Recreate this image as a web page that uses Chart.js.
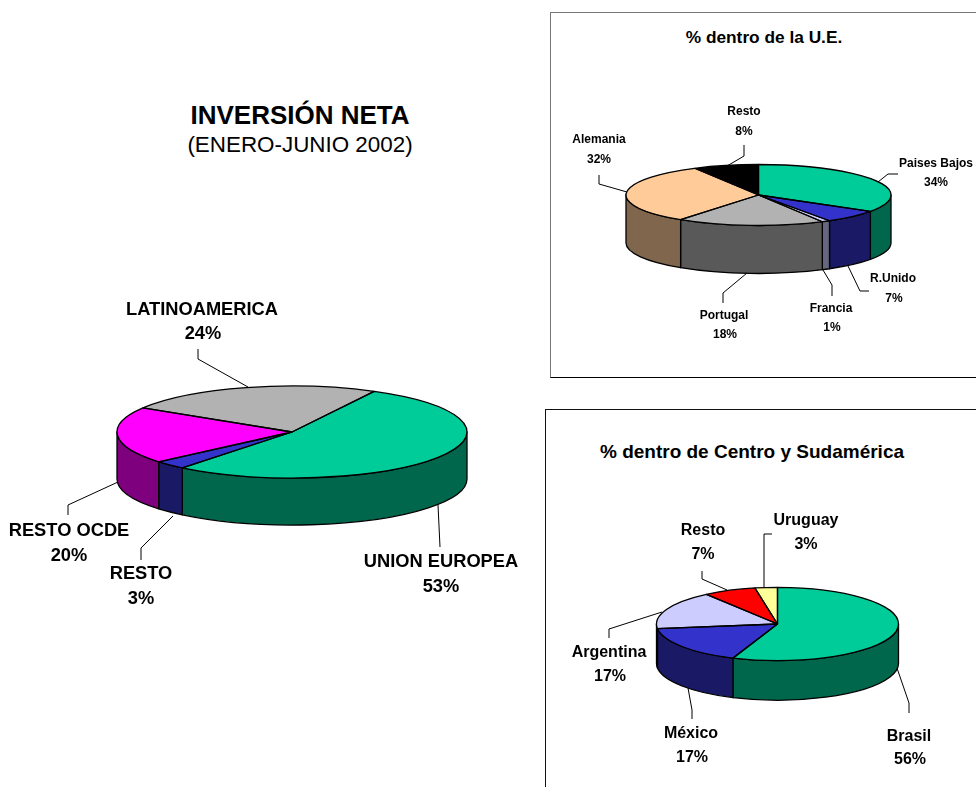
<!DOCTYPE html>
<html>
<head>
<meta charset="utf-8">
<title>Inversión neta</title>
<script src="https://cdn.jsdelivr.net/npm/chart.js@4/dist/chart.umd.min.js"></script>
<style>
    html, body { margin: 0; padding: 0; background: #fff; }
    body { width: 976px; height: 787px; overflow: hidden; position: relative; font-family: "Liberation Sans", Arial, sans-serif; color: #000; }
    canvas { position: absolute; left: 0; top: 0; }
    .frame { position: absolute; box-sizing: border-box; }
    #frameUE { left: 550px; top: 12px; width: 440px; height: 366px; border: 1px solid #000; border-top-color: #777; border-left-color: #777; }
    #frameAL { left: 545px; top: 409px; width: 440px; height: 400px; border: 1px solid #111; }
    .heading { position: absolute; white-space: nowrap; transform: translate(-50%, -50%); }
</style>
</head>
<body>
<div class="frame" id="frameUE"></div>
<div class="frame" id="frameAL"></div>
<div class="heading" style="left:300px;top:115px;font-size:26px;font-weight:bold">INVERSIÓN NETA</div>
<div class="heading" style="left:300px;top:145px;font-size:22.4px">(ENERO-JUNIO 2002)</div>
<div class="heading" style="left:764px;top:37px;font-size:17.3px;font-weight:bold">% dentro de la U.E.</div>
<div class="heading" style="left:752px;top:452px;font-size:19px;font-weight:bold">% dentro de Centro y Sudamérica</div>
<canvas id="pieTotal" width="976" height="787"></canvas>
<canvas id="pieUE" width="976" height="787"></canvas>
<canvas id="pieAL" width="976" height="787"></canvas>
<script>
// Inversion neta total
const totalCategories = ['UNION EUROPEA', 'RESTO', 'RESTO OCDE', 'LATINOAMERICA'];
const totalValues = [53, 3, 20, 24];

// Reparto dentro de la U.E.
const ueCategories = ['Paises Bajos', 'R.Unido', 'Francia', 'Portugal', 'Alemania', 'Resto'];
const ueValues = [34, 7, 1, 18, 32, 8];

// Reparto dentro de Centro y Sudamerica
const alCategories = ['Brasil', 'México', 'Argentina', 'Resto', 'Uruguay'];
const alValues = [56, 17, 17, 7, 3];

// Half the colour gives the side wall, same as the old Excel 3D pies
function darken(hex) {
    const n = parseInt(hex.slice(1), 16);
    const r = (n >> 16) >> 1, g = ((n >> 8) & 255) >> 1, b = (n & 255) >> 1;
    return `rgb(${r},${g},${b})`;
}

// Keep the squash around the hub of the pie
function squash(ctx, arc, tilt) {
    ctx.translate(0, arc.y);
    ctx.scale(1, tilt);
    ctx.translate(0, -arc.y);
}

// Draws the walls first, lets Chart.js fill the squashed slices, then outlines and labels
const pie3d = {
    id: 'pie3d',
    beforeDatasetsDraw(chart, args, opts) {
        const ctx = chart.ctx;
        const arcs = chart.getDatasetMeta(0).data;
        const colors = chart.data.datasets[0].backgroundColor;
        ctx.lineWidth = opts.lineWidth;
        ctx.strokeStyle = '#000';
        ctx.lineJoin = 'round';

        arcs.forEach((arc, i) => {
            // Only the part in the front half of the pie has a visible wall
            for (let turn = -1; turn <= 1; turn++) {
                const from = Math.max(arc.startAngle + turn * 2 * Math.PI, 0);
                const to = Math.min(arc.endAngle + turn * 2 * Math.PI, Math.PI);
                if (to <= from) continue;
                ctx.save();
                squash(ctx, arc, opts.tilt);
                ctx.beginPath();
                ctx.arc(arc.x, arc.y, arc.outerRadius, from, to);
                ctx.arc(arc.x, arc.y + opts.depth / opts.tilt, arc.outerRadius, to, from, true);
                ctx.closePath();
                ctx.restore();
                ctx.fillStyle = darken(colors[i]);
                ctx.fill();
                ctx.stroke();
            }
        });

        ctx.save();
        squash(ctx, arcs[0], opts.tilt);
    },
    afterDatasetsDraw(chart, args, opts) {
        const ctx = chart.ctx;
        ctx.restore();

        const arcs = chart.getDatasetMeta(0).data;
        ctx.lineWidth = opts.lineWidth;
        ctx.strokeStyle = '#000';
        arcs.forEach(arc => {
            ctx.save();
            squash(ctx, arc, opts.tilt);
            ctx.beginPath();
            ctx.moveTo(arc.x, arc.y);
            ctx.arc(arc.x, arc.y, arc.outerRadius, arc.startAngle, arc.endAngle);
            ctx.closePath();
            ctx.restore();
            ctx.stroke();
        });

        // Leader lines and the two line labels
        ctx.lineWidth = 1;
        ctx.font = opts.font;
        ctx.fillStyle = '#000';
        ctx.textAlign = 'center';
        ctx.textBaseline = 'middle';
        chart.data.labels.forEach((name, i) => {
            const place = opts.places[i];
            ctx.beginPath();
            place.leader.forEach((p, k) => k ? ctx.lineTo(p[0], p[1]) : ctx.moveTo(p[0], p[1]));
            ctx.stroke();
            ctx.fillText(name, place.name[0], place.name[1]);
            ctx.fillText(chart.data.datasets[0].data[i] + '%', place.pct[0], place.pct[1]);
        });
    }
};

function drawPie(id, labels, values, colors, look) {
    // Padding leaves a square of the pie's diameter around the hub
    const canvas = document.getElementById(id);
    return new Chart(canvas, {
        type: 'pie',
        data: {
            labels: labels,
            datasets: [{ data: values, backgroundColor: colors, borderWidth: 0 }]
        },
        options: {
            responsive: false,
            animation: false,
            events: [],
            rotation: look.rotation,
            layout: {
                padding: {
                    left: look.cx - look.rx,
                    right: canvas.width - look.cx - look.rx,
                    top: look.cy - look.rx,
                    bottom: canvas.height - look.cy - look.rx
                }
            },
            plugins: {
                legend: { display: false },
                tooltip: { enabled: false },
                pie3d: {
                    tilt: look.ry / look.rx,
                    depth: look.depth,
                    lineWidth: 1.3,
                    font: look.font,
                    places: look.places
                }
            }
        },
        plugins: [pie3d]
    });
}

drawPie('pieTotal', totalCategories, totalValues, ['#00CC99', '#3333CC', '#FF00FF', '#B2B2B2'], {
    cx: 292, cy: 432, rx: 175, ry: 46, depth: 47, rotation: 28,
    font: 'bold 18.3px "Liberation Sans", Arial, sans-serif',
    places: [
        { name: [441, 562], pct: [441, 587], leader: [[440, 547], [438, 505]] },
        { name: [141, 574], pct: [141, 599], leader: [[141, 560], [141, 548], [173, 516]] },
        { name: [69, 531], pct: [69, 556], leader: [[68, 515], [68, 505], [118, 482]] },
        { name: [202, 310], pct: [203, 334], leader: [[198, 349], [198, 359], [248, 387]] }
    ]
});

drawPie('pieUE', ueCategories, ueValues, ['#00CC99', '#3333CC', '#CCCCFF', '#B2B2B2', '#FFCC99', '#000000'], {
    cx: 758.5, cy: 195, rx: 132.5, ry: 30.5, depth: 48, rotation: 0,
    font: 'bold 12px "Liberation Sans", Arial, sans-serif',
    places: [
        { name: [936, 164], pct: [936, 183], leader: [[898, 174], [888, 174], [878, 182]] },
        { name: [893, 279], pct: [894, 299], leader: [[869, 291], [860, 291], [848, 266]] },
        { name: [831, 309], pct: [832, 328], leader: [[832, 296], [832, 285], [823, 270]] },
        { name: [724, 316], pct: [725, 335], leader: [[723, 303], [723, 293], [747, 273]] },
        { name: [599, 140], pct: [599, 160], leader: [[599, 175], [599, 184], [627, 192]] },
        { name: [744, 112], pct: [744, 132], leader: [[744, 145], [744, 156], [727, 166]] }
    ]
});

drawPie('pieAL', alCategories, alValues, ['#00CC99', '#3333CC', '#CCCCFF', '#FF0000', '#FFFF99'], {
    cx: 777.5, cy: 624, rx: 121, ry: 36.7, depth: 39.5, rotation: 0,
    font: 'bold 16px "Liberation Sans", Arial, sans-serif',
    places: [
        { name: [909, 737], pct: [910, 760], leader: [[909, 713], [909, 703], [897, 668]] },
        { name: [691, 734], pct: [692, 758], leader: [[692, 719], [692, 710], [688, 688]] },
        { name: [609, 653], pct: [610, 677], leader: [[609, 638], [609, 629], [662, 612]] },
        { name: [703, 531], pct: [703, 555], leader: [[702, 571], [702, 579], [727, 590]] },
        { name: [806, 521], pct: [806, 545], leader: [[772, 534], [764, 534], [764, 587]] }
    ]
});
</script>
</body>
</html>
